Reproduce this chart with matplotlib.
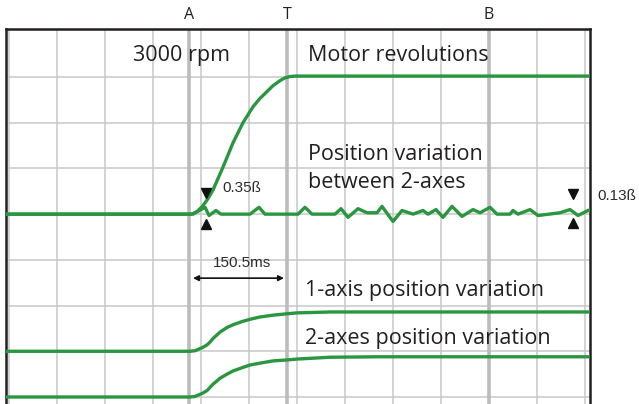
import matplotlib
matplotlib.use("Agg")
import matplotlib.pyplot as plt

# time in ms (grid every 75 ms), level in grid divisions
grid_x = [0, 75, 150, 225, 300, 375, 450, 525, 600, 675, 750, 825, 900]
grid_y = [0, 1, 2, 3, 4, 5, 6, 7]
marks = {'A': 281, 'T': 434, 'B': 750}

motor_t = [-10, 282, 287.5, 294, 301.6, 310, 318.8, 334.4, 350, 365.6, 381.3, 392,
           403, 412.5, 423.4, 431, 439, 447, 470, 920]
motor_v = [4.0, 4.0, 4.01, 4.06, 4.16, 4.32, 4.53, 5.03, 5.56, 6.0, 6.35, 6.53,
           6.68, 6.81, 6.92, 6.98, 7.01, 7.02, 7.02, 7.02]

diff_t = [-10, 287.5, 306.3, 312.5, 323.4, 331.3, 376.6, 390.6, 400, 451.6, 462.5, 473.4,
          509.4, 518.8, 529.7, 545.3, 559.4, 575, 582.8, 600, 614.1, 631.3, 646.9, 654.7,
          667.2, 678.1, 692.2, 707.8, 725, 735.9, 751.6, 762.5, 782.8, 787.5, 795.3,
          814.1, 826.6, 860.9, 876.6, 889.1, 904.7, 911]
diff_v = [4.0, 4.0, 4.15, 3.97, 4.08, 4.0, 4.0, 4.15, 4.0, 4.0, 4.15, 4.0,
          4.0, 4.12, 3.93, 4.12, 4.03, 4.03, 4.17, 3.84, 4.08, 4.0, 4.08, 4.0,
          4.10, 3.93, 4.17, 3.95, 4.10, 4.03, 4.15, 4.0, 4.0, 4.08, 4.0,
          4.10, 3.97, 4.03, 4.10, 3.97, 4.08, 4.10]

ax1_t = [-10, 282, 290, 295.3, 302, 309.4, 314, 318.8, 329.7, 340.6, 350, 364, 376.6,
         392, 412.5, 434, 450, 501.6, 579.7, 920]
ax1_v = [1.0, 1.0, 1.01, 1.04, 1.08, 1.14, 1.20, 1.28, 1.42, 1.52, 1.58, 1.65, 1.70,
         1.75, 1.79, 1.82, 1.84, 1.86, 1.86, 1.86]

ax2_t = [-10, 282, 290, 295.3, 302, 309.4, 314, 318.8, 329.7, 340.6, 350, 364, 376.6,
         392, 412.5, 434, 450, 501.6, 579.7, 920]
ax2_v = [0.0, 0.0, 0.01, 0.04, 0.08, 0.14, 0.21, 0.28, 0.41, 0.50, 0.57, 0.64, 0.70,
         0.74, 0.79, 0.81, 0.83, 0.87, 0.88, 0.88]

# measurement markers (x, top, bottom) and their labels
meas_t = [307.8, 881]
meas_top = [4.46, 4.44]
meas_bot = [3.79, 3.81]
meas_lbl = ['0.35ß', '0.13ß']
span_ms = 150.5

green = '#2a9640'
big = dict(family=['Open Sans', 'DejaVu Sans'], fontsize=15.5, color='#231f20')
small = dict(family=['Liberation Sans', 'DejaVu Sans'], fontsize=11, color='#2b2b2b')

fig = plt.figure(figsize=(6.39, 4.04), dpi=100)
ax = fig.add_axes([6 / 639, 0, 584 / 639, 375 / 404])
ax.set_xlim(-4.7, 907.8)
ax.set_ylim(-0.153, 8.05)

for gx in grid_x:
    ax.axvline(gx, color='#c8c8c8', lw=1.1, zorder=1)
for gy in grid_y:
    ax.axhline(gy, color='#c8c8c8', lw=1.1, zorder=1)
for name, mx in marks.items():
    ax.axvline(mx, color='#bcbcbe', lw=2.6, zorder=1)
    ax.text(mx, 8.36, name, ha='center', va='center', clip_on=False,
            family=['Open Sans', 'DejaVu Sans'], fontsize=11.5, color='#231f20')

ax.plot(motor_t, motor_v, color=green, lw=2.4, zorder=3)
ax.plot(diff_t, diff_v, color=green, lw=2.4, zorder=3)
ax.plot(ax1_t, ax1_v, color=green, lw=2.4, zorder=3)
ax.plot(ax2_t, ax2_v, color=green, lw=2.4, zorder=3)

ax.plot(meas_t, meas_top, 'v', color='#111111', ms=7.5, zorder=4, clip_on=False)
ax.plot(meas_t, meas_bot, '^', color='#111111', ms=7.5, zorder=4, clip_on=False)
ax.text(334, 4.57, meas_lbl[0], ha='left', va='center', **small)
ax.text(919, 4.40, meas_lbl[1], ha='left', va='center', clip_on=False, **small)

ax.annotate('', xy=(287.5, 2.6), xytext=(429.7, 2.6),
            arrowprops=dict(arrowstyle='<|-|>', color='#111111', lw=1.2,
                            mutation_scale=8, shrinkA=0, shrinkB=0))
ax.text(364, 2.93, f'{span_ms}ms', ha='center', va='center', **small)

ax.text(270, 7.48, '3000 rpm', ha='center', va='center', **big)
ax.text(467, 7.48, 'Motor revolutions', ha='left', va='center', **big)
ax.text(467, 5.30, 'Position variation', ha='left', va='center', **big)
ax.text(467, 4.70, 'between 2-axes', ha='left', va='center', **big)
ax.text(462.5, 2.32, '1-axis position variation', ha='left', va='center', **big)
ax.text(462.5, 1.27, '2-axes position variation', ha='left', va='center', **big)

ax.set_xticks([])
ax.set_yticks([])
ax.spines['bottom'].set_visible(False)
for s in ('left', 'top', 'right'):
    ax.spines[s].set_color('#231f20')
    ax.spines[s].set_linewidth(1.8)

plt.savefig('out.png', dpi=100)
